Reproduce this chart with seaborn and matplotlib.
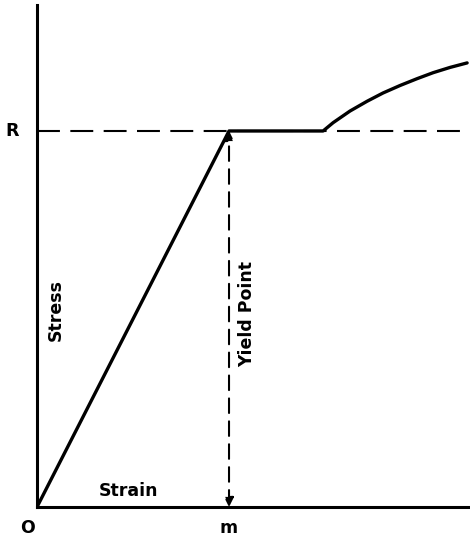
import numpy as np
import pandas as pd
import matplotlib
matplotlib.use("Agg")
import matplotlib.pyplot as plt
import seaborn as sns

# stress-strain curve, strain in units of m, stress in units of R
strain = [0.0, 1.0, 1.49, 1.542, 1.63, 1.719, 1.802, 1.891, 1.979, 2.063, 2.151, 2.24]
stress = [0.0, 1.0, 1.0, 1.022, 1.053, 1.079, 1.101, 1.121, 1.139, 1.155, 1.169, 1.181]
yield_strain = 1.0
yield_stress = 1.0
x_max = 2.255
y_max = 1.335

sns.set_style("white")
plt.rcParams['font.family'] = ['DejaVu Sans']
plt.rcParams['text.color'] = 'black'

fig = plt.figure(figsize=(4.7, 5.42), dpi=100)
ax = fig.add_axes([37 / 470, 35 / 542, 433 / 470, 502 / 542])

df = pd.DataFrame({"strain": strain, "stress": stress})
sns.lineplot(data=df, x="strain", y="stress", ax=ax, color="black",
             linewidth=2.4, sort=False, zorder=3)

# dashed level of R
ax.plot([0, x_max], [yield_stress, yield_stress], color="black",
        linestyle=(0, (11, 5)), linewidth=1.5, zorder=2)

# yield point arrow
ax.annotate("", xy=(yield_strain, yield_stress), xytext=(yield_strain, 0),
            arrowprops=dict(arrowstyle="<|-|>", color="black", lw=1.5,
                            linestyle=(0, (7, 4)), mutation_scale=14,
                            shrinkA=0, shrinkB=0))

ax.set_xlim(0, x_max)
ax.set_ylim(0, y_max)
ax.set_xticks([])
ax.set_yticks([])
ax.set_xlabel("")
ax.set_ylabel("")
for s in ["top", "right"]:
    ax.spines[s].set_visible(False)
for s in ["left", "bottom"]:
    ax.spines[s].set_color("black")
    ax.spines[s].set_linewidth(2.2)

fs = 12.5
kw = dict(fontsize=fs, fontweight="bold", color="black", ha="center", va="center")
ax.text(-0.13, yield_stress, "R", clip_on=False, **kw)
ax.text(-0.05, -0.056, "O", clip_on=False, **kw)
ax.text(yield_strain, -0.056, "m", clip_on=False, **kw)
ax.text(0.474, 0.043, "Strain", **kw)
ax.text(0.1, 0.524, "Stress", rotation=90, **kw)
ax.text(yield_strain + 0.095, 0.513, "Yield Point", rotation=90, **kw)

fig.savefig("out.png", dpi=100)
